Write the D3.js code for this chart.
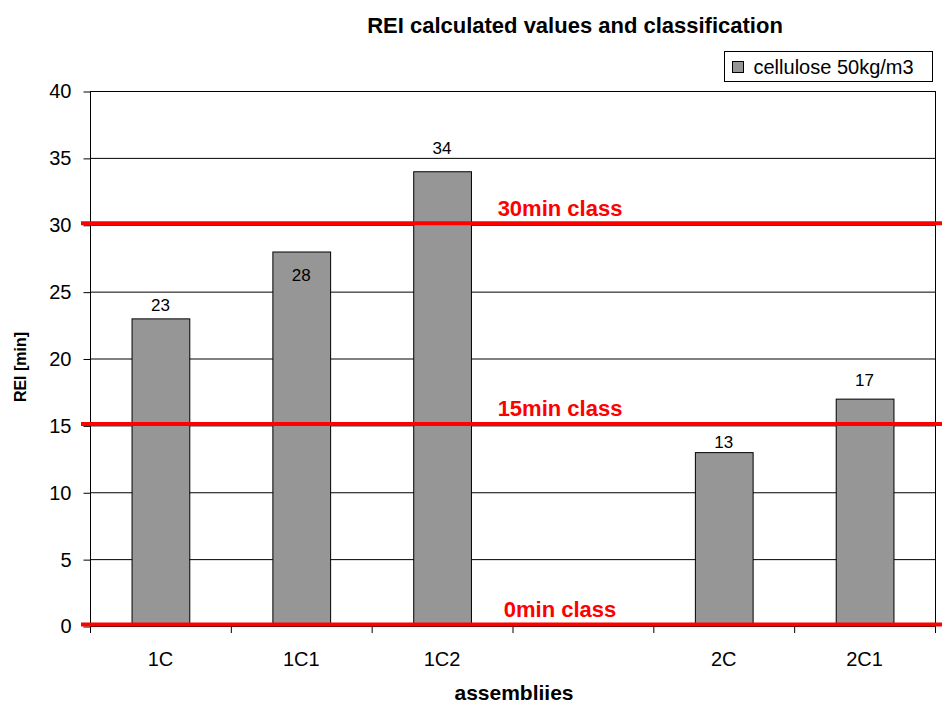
<!DOCTYPE html>
<html>
<head>
<meta charset="utf-8">
<script src="https://cdn.jsdelivr.net/npm/d3@7"></script>
<style>
  body { margin: 0; background: #fff; }
  text { font-family: Arial, "Liberation Sans", sans-serif; }
</style>
</head>
<body>
<svg id="chart" width="942" height="704"></svg>
<script>
// data
const categories = ["1C", "1C1", "1C2", "", "2C", "2C1"];
const values = [23, 28, 34, null, 13, 17];
const yTicks = [0, 5, 10, 15, 20, 25, 30, 35, 40];
const classValues = [0, 15, 30];
const classLabels = ["0min class", "15min class", "30min class"];
const seriesName = "cellulose 50kg/m3";

// label placement relative to bar top (px), as in the original
const labelDy = [-7, 29, -17, 0, -4, -13];

const svg = d3.select("#chart");
const plot = { left: 90, right: 935, top: 91, bottom: 626 };
const fontFam = "Arial, 'Liberation Sans', sans-serif";

const x = d3.scaleBand()
    .domain(categories.map((c, i) => i))
    .range([plot.left, plot.right])
    .padding(0);
const y = d3.scaleLinear().domain([0, 40]).range([plot.bottom, plot.top]);
const barW = x.bandwidth() * 0.41;

// title
svg.append("text")
    .attr("x", 575).attr("y", 33)
    .attr("text-anchor", "middle")
    .attr("font-size", 22).attr("font-weight", "bold")
    .text("REI calculated values and classification");

// gridlines
svg.append("g").selectAll("line")
    .data(yTicks.filter(d => d > 0))
    .enter().append("line")
    .attr("x1", plot.left).attr("x2", plot.right)
    .attr("y1", d => y(d) + 0.5).attr("y2", d => y(d) + 0.5)
    .attr("stroke", "#000").attr("stroke-width", 1);

// right border
svg.append("line")
    .attr("x1", plot.right + 0.5).attr("x2", plot.right + 0.5)
    .attr("y1", plot.top).attr("y2", plot.bottom)
    .attr("stroke", "#000");

// bars
const data = categories.map((c, i) => ({ i, c, v: values[i], dy: labelDy[i] }))
    .filter(d => d.v != null);

svg.append("g").selectAll("rect")
    .data(data)
    .enter().append("rect")
    .attr("x", d => x(d.i) + (x.bandwidth() - barW) / 2 + 0.5)
    .attr("y", d => y(d.v) + 0.5)
    .attr("width", barW)
    .attr("height", d => y(0) - y(d.v))
    .attr("fill", "#969696")
    .attr("stroke", "#000").attr("stroke-width", 1);

// value labels
svg.append("g").selectAll("text")
    .data(data)
    .enter().append("text")
    .attr("x", d => x(d.i) + x.bandwidth() / 2)
    .attr("y", d => y(d.v) + d.dy)
    .attr("text-anchor", "middle")
    .attr("font-size", 17)
    .text(d => d.v);

// y axis
const yAxis = svg.append("g")
    .attr("transform", `translate(${plot.left + 0.5},0.5)`)
    .call(d3.axisLeft(y).tickValues(yTicks).tickSize(7).tickPadding(12));
yAxis.select(".domain").attr("d", `M0,${plot.top}V${plot.bottom}`);
yAxis.selectAll("text").attr("font-size", 20).attr("font-family", fontFam).attr("fill", "#000");

// x axis
const xAxis = svg.append("g")
    .attr("transform", `translate(0,${plot.bottom + 0.5})`)
    .call(d3.axisBottom(x).tickSize(0).tickFormat(i => categories[i]).tickPadding(25));
xAxis.select(".domain").remove();
xAxis.selectAll("text").attr("font-size", 20).attr("font-family", fontFam).attr("fill", "#000");
svg.append("line")
    .attr("x1", plot.left).attr("x2", plot.right)
    .attr("y1", plot.bottom + 0.5).attr("y2", plot.bottom + 0.5)
    .attr("stroke", "#000");
svg.append("g").selectAll("line")
    .data(categories.map((c, i) => i).concat([categories.length]))
    .enter().append("line")
    .attr("x1", i => (i < categories.length ? x(i) : plot.right) + 0.5)
    .attr("x2", i => (i < categories.length ? x(i) : plot.right) + 0.5)
    .attr("y1", plot.bottom).attr("y2", plot.bottom + 7)
    .attr("stroke", "#000");

// class lines
svg.append("g").selectAll("line")
    .data(classValues)
    .enter().append("line")
    .attr("x1", 81).attr("x2", 942)
    .attr("y1", d => y(d) - 1.5).attr("y2", d => y(d) - 1.5)
    .attr("stroke", "#ff0000").attr("stroke-width", 4);

svg.append("g").selectAll("text")
    .data(classValues)
    .enter().append("text")
    .attr("x", 560)
    .attr("y", d => y(d) - 9)
    .attr("text-anchor", "middle")
    .attr("font-size", 22).attr("font-weight", "bold")
    .attr("fill", "#ff0000")
    .text((d, i) => classLabels[i]);

// axis titles
svg.append("text")
    .attr("x", 514).attr("y", 700)
    .attr("text-anchor", "middle")
    .attr("font-size", 21).attr("font-weight", "bold")
    .text("assembliies");
svg.append("text")
    .attr("transform", "translate(26,367) rotate(-90)")
    .attr("text-anchor", "middle")
    .attr("font-size", 16).attr("font-weight", "bold")
    .text("REI [min]");

// legend
const legend = svg.append("g").attr("transform", "translate(724.5,51.5)");
legend.append("rect")
    .attr("width", 208).attr("height", 30)
    .attr("fill", "#fff").attr("stroke", "#000");
legend.append("rect")
    .attr("x", 8).attr("y", 10).attr("width", 11).attr("height", 11)
    .attr("fill", "#969696").attr("stroke", "#000");
legend.append("text")
    .attr("x", 29).attr("y", 22)
    .attr("font-size", 20)
    .text(seriesName);
</script>
</body>
</html>
